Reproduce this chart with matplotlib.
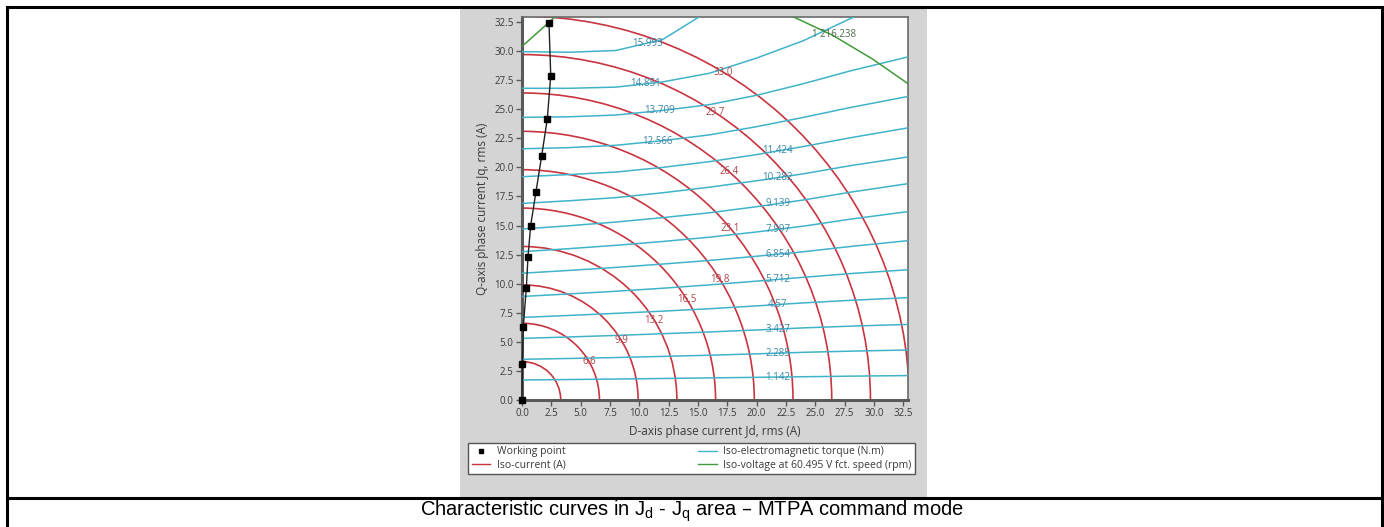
import numpy as np
import matplotlib

matplotlib.use("Agg")
import matplotlib.pyplot as plt
from matplotlib.lines import Line2D
from matplotlib.patches import Arc, Rectangle

# ---- data -----------------------------------------------------------------
# iso-current levels (A rms)
current_levels = [3.3, 6.6, 9.9, 13.2, 16.5, 19.8, 23.1, 26.4, 29.7, 33.0]

# iso-torque levels (N.m) and the Jq they pass through at a few Jd columns
torque_levels = [1.142, 2.285, 3.427, 4.57, 5.712, 6.854, 7.997,
                 9.139, 10.282, 11.424, 12.566, 13.709, 14.851, 15.993]
torque_jd = [0.0, 4.0, 8.0, 12.0, 16.0, 20.0, 24.0, 28.0, 32.9]
torque_jq = [
    [1.72, 1.76, 1.80, 1.85, 1.90, 1.95, 2.00, 2.05, 2.10],
    [3.50, 3.57, 3.65, 3.75, 3.85, 3.97, 4.10, 4.20, 4.30],
    [5.30, 5.42, 5.55, 5.70, 5.85, 6.02, 6.20, 6.35, 6.50],
    [7.10, 7.27, 7.45, 7.64, 7.85, 8.09, 8.35, 8.57, 8.80],
    [8.90, 9.12, 9.35, 9.61, 9.90, 10.22, 10.55, 10.87, 11.20],
    [10.90, 11.14, 11.40, 11.69, 12.00, 12.36, 12.75, 13.20, 13.70],
    [12.75, 13.01, 13.30, 13.63, 14.00, 14.45, 14.95, 15.55, 16.20],
    [14.70, 14.98, 15.30, 15.68, 16.10, 16.62, 17.20, 17.87, 18.60],
    [16.90, 17.13, 17.40, 17.82, 18.30, 18.85, 19.45, 20.15, 20.90],
    [19.20, 19.38, 19.60, 20.00, 20.50, 21.10, 21.80, 22.55, 23.40],
    [21.60, 21.70, 21.90, 22.30, 22.80, 23.50, 24.30, 25.15, 26.10],
    [24.30, 24.35, 24.50, 24.90, 25.40, 26.20, 27.20, 28.30, 29.50],
    [26.80, 26.80, 26.90, 27.35, 28.10, 29.40, 30.90, 32.80, 35.00],
    [29.95, 29.90, 30.05, 31.00, 33.50, 36.00, 38.50, 41.00, 44.00],
]

# iso-voltage curve (two visible pieces)
volt_jd_a = [0.0, 3.0]
volt_jq_a = [30.4, 33.1]
volt_jd_b = [23.0, 26.5, 29.9, 32.9]
volt_jq_b = [33.0, 31.35, 29.3, 27.2]
volt_label = "1 216.238"

# MTPA working points
wp_jd = [0.0, 0.03, 0.11, 0.37, 0.51, 0.74, 1.19, 1.68, 2.16, 2.45, 2.30]
wp_jq = [0.0, 3.1, 6.3, 9.66, 12.3, 15.0, 17.9, 21.0, 24.2, 27.9, 32.4]

# ---- styling / placement ---------------------------------------------------
W, H = 1384, 527
RED = "#c8343f"
RED_TXT = "#b0454a"
CYAN = "#3fb3c9"
CYAN_TXT = "#3b86a6"
GREEN = "#3f9a3a"
GREEN_TXT = "#4d6a4d"
PANEL = "#d4d4d4"
AXIS = "#5a5a5a"
TEXT = "#3a3a3a"

# where the labels sit along each curve
current_label_angle = [None, 30, 31, 31.4, 31.6, 31.5, 39.8, 48.1, 56.4, 58.7]
torque_label_jd = [21.8] * 10 + [11.55, 11.7, 10.55, 10.7]
volt_label_pos = (26.6, 31.4)

plt.rcParams.update({
    "font.family": ["Open Sans", "DejaVu Sans"],
})


def fx(px):
    return px / W


def fy(py):
    return 1 - py / H


fig = plt.figure(figsize=(W / 100, H / 100), dpi=100)

# table frame + grey panel behind the chart
fig.add_artist(Rectangle((fx(460), fy(497)), fx(927) - fx(460), fy(7) - fy(497),
                         transform=fig.transFigure, facecolor=PANEL,
                         edgecolor="none", zorder=0))
fig.add_artist(Rectangle((fx(7), fy(530)), fx(1382) - fx(7), fy(7) - fy(530),
                         transform=fig.transFigure, facecolor="none",
                         edgecolor="black", linewidth=2.2, zorder=5))
fig.add_artist(Line2D([fx(7), fx(1382)], [fy(498), fy(498)],
                      transform=fig.transFigure, color="black", linewidth=2.2))

fig.text(0.5, fy(511),
         r"Characteristic curves in J$_\mathregular{d}$ - J$_\mathregular{q}$ area – MTPA command mode",
         ha="center", va="center", fontsize=14.5, family="Liberation Sans",
         color="black")

ax = fig.add_axes([fx(522), fy(400), fx(908) - fx(522), fy(17) - fy(400)])
ax.set_facecolor("white")
ax.set_xlim(0, 32.9)
ax.set_ylim(0, 32.93)

# iso-current arcs
for i, r in enumerate(current_levels):
    ax.add_patch(Arc((0, 0), 2 * r, 2 * r, theta1=0, theta2=90,
                     color=RED, linewidth=1.2, zorder=2))
    ang = current_label_angle[i]
    if ang is not None:
        t = np.radians(ang)
        ax.text(r * np.cos(t), r * np.sin(t), f"{r:.1f}", color=RED_TXT,
                fontsize=7, ha="center", va="center", zorder=4)

# iso-torque lines
for lvl, row, ljd in zip(torque_levels, torque_jq, torque_label_jd):
    ax.plot(torque_jd, row, color=CYAN, linewidth=1.1, zorder=3)
    ax.text(ljd, np.interp(ljd, torque_jd, row), f"{lvl:g}", color=CYAN_TXT,
            fontsize=7, ha="center", va="center", zorder=4)

# iso-voltage
ax.plot(volt_jd_a, volt_jq_a, color=GREEN, linewidth=1.1, zorder=3)
ax.plot(volt_jd_b, volt_jq_b, color=GREEN, linewidth=1.1, zorder=3)
ax.text(*volt_label_pos, volt_label, color=GREEN_TXT, fontsize=7,
        ha="center", va="center", zorder=4)

# working points
ax.plot(wp_jd, wp_jq, color="#222222", linewidth=1.0, marker="s",
        markersize=3.8, markerfacecolor="black", markeredgecolor="black",
        zorder=5, clip_on=False)

ticks = np.arange(0, 32.6, 2.5)
ax.set_xticks(ticks, [f"{t:.1f}" for t in ticks])
ax.set_yticks(ticks, [f"{t:.1f}" for t in ticks])
ax.tick_params(colors=AXIS, labelcolor=TEXT, labelsize=7, length=4,
               width=1.0, pad=2)
for side in ("left", "bottom"):
    ax.spines[side].set_linewidth(2.2)
    ax.spines[side].set_color(AXIS)
for side in ("top", "right"):
    ax.spines[side].set_linewidth(1.2)
    ax.spines[side].set_color("#6a6a6a")

ax.set_xlabel("D-axis phase current Jd, rms (A)", fontsize=8.5, color=TEXT,
              labelpad=4)
ax.set_ylabel("Q-axis phase current Jq, rms (A)", fontsize=8.5, color=TEXT,
              labelpad=4)

handles = [
    Line2D([], [], linestyle="none", marker="s", markersize=3.5, color="black"),
    Line2D([], [], color=RED, linewidth=1.0),
    Line2D([], [], color=CYAN, linewidth=1.0),
    Line2D([], [], color=GREEN, linewidth=1.0),
]
labels = ["Working point", "Iso-current (A)",
          "Iso-electromagnetic torque (N.m)",
          "Iso-voltage at 60.495 V fct. speed (rpm)"]
leg = fig.legend(handles, labels, ncol=2, loc="center", mode="expand",
                 bbox_to_anchor=(fx(468), fy(473), fx(915) - fx(468), fy(444) - fy(473)),
                 fontsize=7.5, frameon=True, fancybox=False, framealpha=1,
                 handlelength=1.8, handletextpad=0.6, borderpad=0.35,
                 labelspacing=0.25, borderaxespad=0)
leg.get_frame().set_edgecolor("#555555")
leg.get_frame().set_facecolor("white")
leg.get_frame().set_linewidth(1.0)
for t in leg.get_texts():
    t.set_color(TEXT)

fig.savefig("out.png", dpi=100)
